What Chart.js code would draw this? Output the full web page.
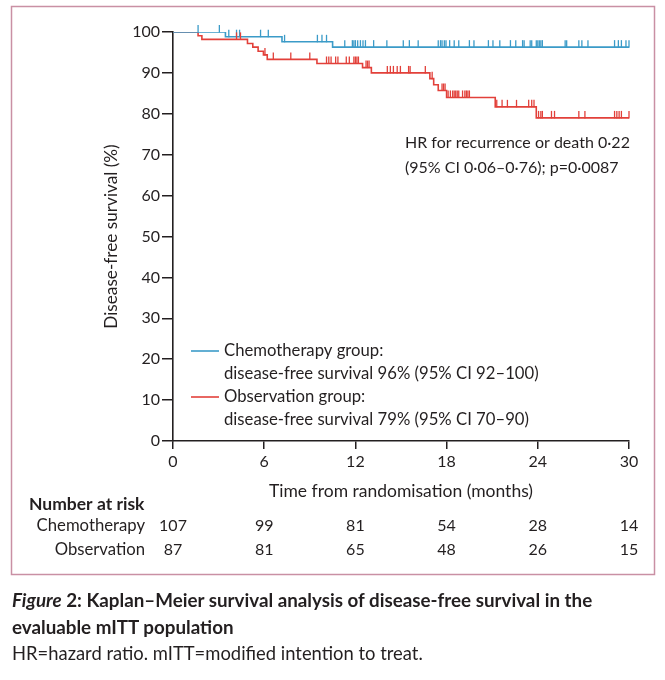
<!DOCTYPE html>
<html><head><meta charset="utf-8">
<script src="https://cdn.jsdelivr.net/npm/chart.js@4.4.0/dist/chart.umd.min.js"></script>
<style>
html,body{margin:0;padding:0;background:#fff;}
#wrap{position:relative;width:665px;height:680px;overflow:hidden;background:#fff;}
canvas{position:absolute;left:0;top:0;}
#cap{position:absolute;left:12px;top:587px;width:650px;font-family:Lato,"Open Sans",sans-serif;color:#231f20;font-size:18.4px;line-height:26.5px;}
#cap .t{font-weight:700;font-size:18.8px;}
</style></head><body>
<div id="wrap"><canvas id="c" width="665" height="680"></canvas>
<div id="cap"><div class="t"><i>Figure</i> 2: Kaplan–Meier survival analysis of disease-free survival in the<br>evaluable mITT population</div><div>HR=hazard ratio. mITT=modified intention to treat.</div></div>
</div>
<script>
// ---- data ----
const groupNames = ['Chemotherapy', 'Observation'];
const legendTitles = ['Chemotherapy group:', 'Observation group:'];
const legendDetails = ['disease-free survival 96% (95% CI 92–100)', 'disease-free survival 79% (95% CI 70–90)'];
const chemoTimes = [0, 3.45, 7.17, 10.5, 30];
const chemoSurv  = [100, 98.85, 97.6, 96.3, 96.3];
const obsTimes = [0, 1.65, 1.9, 4.9, 5.25, 5.6, 5.95, 6.2, 9.47, 12.47, 13.05, 16.9, 17.15, 17.45, 18.0, 21.2, 23.9, 30];
const obsSurv  = [100, 99.1, 98.2, 97.2, 96.3, 95.3, 94.4, 93.3, 92.3, 91.3, 90.0, 88.6, 87.1, 85.7, 84.0, 81.7, 79.0, 79.0];
const chemoCensor = [1.65, 3.05, 3.67, 4.18, 4.38, 5.76, 6.27, 7.34, 9.5, 9.8, 10.1, 11.3, 11.8, 11.9, 12.0, 12.15, 12.33, 12.5, 12.66, 13.2, 14.07, 15.15, 15.55, 16.13, 17.45, 17.6, 17.7, 17.85, 17.96, 18.2, 18.5, 18.8, 19.5, 19.8, 20.75, 21.05, 21.5, 22.2, 22.55, 23.0, 23.1, 23.5, 23.6, 23.9, 24.0, 24.1, 24.2, 24.3, 25.8, 25.9, 26.7, 26.9, 27.3, 29.05, 29.3, 29.5, 29.8, 30.0];
const obsCensor = [4.18, 4.44, 6.05, 6.6, 7.75, 9.0, 10.1, 10.25, 10.4, 10.7, 10.85, 11.4, 11.6, 11.9, 12.0, 12.1, 12.2, 12.7, 12.8, 12.9, 14.1, 14.3, 14.5, 14.75, 14.96, 15.5, 15.6, 16.6, 17.05, 17.7, 17.8, 17.9, 18.1, 18.25, 18.4, 18.5, 18.6, 18.7, 18.8, 19.05, 19.2, 19.3, 19.4, 19.5, 21.3, 21.65, 22.0, 22.6, 23.4, 23.6, 23.75, 24.05, 24.2, 24.3, 24.9, 25.1, 26.7, 27.1, 29.05, 29.2, 29.35, 29.5, 30.0];
const riskTimes = [0, 6, 12, 18, 24, 30];
const chemoRisk = [107, 99, 81, 54, 28, 14];
const obsRisk = [87, 81, 65, 48, 26, 15];
const annotationLines = ['HR for recurrence or death 0·22', '(95% CI 0·06–0·76); p=0·0087'];

// ---- styling ----
const INK = '#231f20';
const FONT = 'Lato, "Open Sans", sans-serif';
const BLUE = '#3b9bc8';
const RED = '#e2403a';

function levelAt(times, surv, t) {
  let s = surv[0];
  for (let i = 0; i < times.length; i++) if (times[i] <= t) s = surv[i];
  return s;
}
const groups = [
  {times: chemoTimes, surv: chemoSurv, censor: chemoCensor, color: BLUE},
  {times: obsTimes, surv: obsSurv, censor: obsCensor, color: RED}
];

const censorPlugin = {
  id: 'censor',
  afterDatasetsDraw(chart) {
    const {ctx, scales: {x, y}} = chart;
    groups.forEach(g => {
      ctx.save();
      ctx.strokeStyle = g.color;
      ctx.lineWidth = 1.3;
      g.censor.forEach(t => {
        const px = x.getPixelForValue(t);
        const py = y.getPixelForValue(levelAt(g.times, g.surv, t));
        ctx.beginPath();
        ctx.moveTo(px, py + 0.5);
        ctx.lineTo(px, py - 7);
        ctx.stroke();
      });
      ctx.restore();
    });
  }
};

const textPlugin = {
  id: 'texts',
  beforeDraw(chart) {
    const ctx = chart.ctx;
    ctx.save();
    ctx.fillStyle = '#fff';
    ctx.fillRect(0, 0, chart.width, chart.height);
    ctx.restore();
  },
  afterDraw(chart) {
    const {ctx, scales: {x}} = chart;
    ctx.save();
    // frame
    ctx.strokeStyle = '#c990a4';
    ctx.lineWidth = 1.5;
    ctx.strokeRect(11.5, 6.5, 643, 568);
    ctx.fillStyle = INK;
    ctx.textBaseline = 'middle';
    // annotation
    ctx.font = '16px ' + FONT;
    ctx.textAlign = 'left';
    ctx.fillText(annotationLines[0], 405, 143);
    ctx.fillText(annotationLines[1], 405, 168);
    // legend
    ctx.font = '16.7px ' + FONT;
    const colors = [BLUE, RED];
    const ys = [351, 397];
    for (let i = 0; i < 2; i++) {
      ctx.strokeStyle = colors[i];
      ctx.lineWidth = 1.6;
      ctx.beginPath();
      ctx.moveTo(191, ys[i]);
      ctx.lineTo(219, ys[i]);
      ctx.stroke();
      ctx.fillStyle = INK;
      ctx.fillText(legendTitles[i], 224, ys[i]);
      ctx.fillText(legendDetails[i], 224, ys[i] + 23);
    }
    // number at risk
    ctx.font = 'bold 17.5px ' + FONT;
    ctx.fillText('Number at risk', 29, 504);
    ctx.font = '16.7px ' + FONT;
    ctx.textAlign = 'right';
    ctx.fillText(groupNames[0], 145, 526);
    ctx.fillText(groupNames[1], 145, 550);
    ctx.font = '16px ' + FONT;
    ctx.textAlign = 'center';
    riskTimes.forEach((t, i) => {
      const px = x.getPixelForValue(t);
      ctx.fillText(String(chemoRisk[i]), px, 526);
      ctx.fillText(String(obsRisk[i]), px, 550);
    });
    ctx.restore();
  }
};

new Chart(document.getElementById('c'), {
  type: 'line',
  data: {
    datasets: [
      {label: groupNames[0], data: chemoTimes.map((t, i) => ({x: t, y: chemoSurv[i]})), borderColor: BLUE, borderWidth: 1.6, stepped: 'before', pointRadius: 0, fill: false},
      {label: groupNames[1], data: obsTimes.map((t, i) => ({x: t, y: obsSurv[i]})), borderColor: RED, borderWidth: 1.6, stepped: 'before', pointRadius: 0, fill: false}
    ]
  },
  options: {
    responsive: false,
    animation: false,
    layout: {padding: {left: 98, right: 36, top: 32, bottom: 178}},
    plugins: {legend: {display: false}, tooltip: {enabled: false}},
    scales: {
      x: {
        type: 'linear', min: 0, max: 30,
        afterFit: s => { s.height = 61; },
        ticks: {stepSize: 6, color: INK, font: {family: FONT, size: 16}, padding: 3, maxRotation: 0},
        grid: {drawOnChartArea: false, tickLength: 8, color: INK, lineWidth: 1.5},
        border: {color: INK, width: 1.6},
        title: {display: true, text: 'Time from randomisation (months)', color: INK, font: {family: FONT, size: 17.5}, padding: {top: 0, bottom: 0}}
      },
      y: {
        min: 0, max: 100,
        afterFit: s => { s.width = 75; },
        ticks: {stepSize: 10, color: INK, font: {family: FONT, size: 16}, padding: 2},
        grid: {drawOnChartArea: false, tickLength: 11, color: INK, lineWidth: 1.5},
        border: {color: INK, width: 1.6},
        title: {display: true, text: 'Disease-free survival (%)', color: INK, font: {family: FONT, size: 17.2}, padding: {top: 3, bottom: 0}}
      }
    }
  },
  plugins: [censorPlugin, textPlugin]
});
</script>
</body></html>
